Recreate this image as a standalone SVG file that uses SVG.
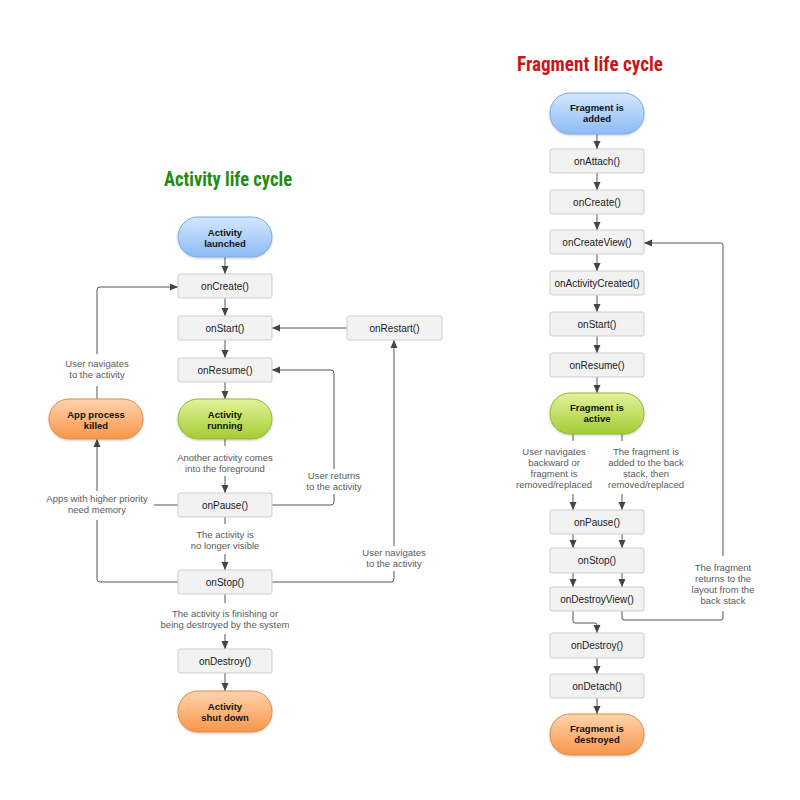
<svg xmlns="http://www.w3.org/2000/svg" width="800" height="800" viewBox="0 0 800 800">
<defs>
<linearGradient id="gBlue" x1="0" y1="0" x2="0" y2="1"><stop offset="0" stop-color="#d3e7ff"/><stop offset="1" stop-color="#8cbbf5"/></linearGradient>
<linearGradient id="gGreen" x1="0" y1="0" x2="0" y2="1"><stop offset="0" stop-color="#e2f29a"/><stop offset="1" stop-color="#a3cd34"/></linearGradient>
<linearGradient id="gOrange" x1="0" y1="0" x2="0" y2="1"><stop offset="0" stop-color="#ffd3ad"/><stop offset="1" stop-color="#f8964a"/></linearGradient>
<filter id="sh" x="-10%" y="-10%" width="120%" height="130%"><feDropShadow dx="0" dy="1" stdDeviation="0.8" flood-color="#000" flood-opacity="0.2"/></filter>
<marker id="arr" viewBox="0 0 8 8" refX="8" refY="4" markerWidth="8" markerHeight="8" markerUnits="userSpaceOnUse" orient="auto"><path d="M0,0.5 L8,4 L0,7.5 Z" fill="#444"/></marker>
</defs>
<style>
.box{fill:#f2f2f2;stroke:#cdcdcd;stroke-width:1}
.pill{stroke-width:1;filter:url(#sh)}
.blue{fill:url(#gBlue);stroke:#82a8de}
.green{fill:url(#gGreen);stroke:#95b83c}
.orange{fill:url(#gOrange);stroke:#e08c48}
.m{font-family:"Liberation Sans",Arial,sans-serif;font-size:10px;fill:#1a1a1a;text-anchor:middle}
.b{font-family:"Liberation Sans",Arial,sans-serif;font-size:9.5px;font-weight:bold;fill:#111;text-anchor:middle}
.l{font-family:"Liberation Sans",Arial,sans-serif;font-size:9.5px;fill:#5a5a5a;text-anchor:middle}
.t{font-family:"Liberation Sans Narrow","Roboto Condensed","Liberation Sans",sans-serif;font-weight:bold;font-size:21px}
.c{fill:none;stroke:#555;stroke-width:1}
.a{marker-end:url(#arr)}
</style>
<rect width="800" height="800" fill="#fff"/>

<text class="t" x="164" y="186" fill="#1f8c14" textLength="128" lengthAdjust="spacingAndGlyphs">Activity life cycle</text>
<text class="t" x="517" y="71" fill="#c8161b" textLength="146" lengthAdjust="spacingAndGlyphs">Fragment life cycle</text>

<g id="connectors">
<!-- activity -->
<path class="c a" d="M225,257 V274"/>
<path class="c a" d="M225,298 V316"/>
<path class="c a" d="M225,340 V358"/>
<path class="c a" d="M225,382 V399"/>
<path class="c" d="M225,439 V446"/>
<path class="c a" d="M225,476 V493"/>
<path class="c" d="M225,517 V524"/>
<path class="c a" d="M225,554 V570"/>
<path class="c" d="M225,594 V603"/>
<path class="c a" d="M225,634 V649"/>
<path class="c a" d="M225,673 V691"/>
<path class="c a" d="M347,328 H272"/>
<path class="c" d="M272,505 H331 Q334,505 334,502 V494"/>
<path class="c a" d="M334,469 V373 Q334,370 331,370 H272"/>
<path class="c" d="M272,582 H391 Q394,582 394,579 V571"/>
<path class="c a" d="M394,546 V340"/>
<path class="c" d="M178,582 H100 Q97,582 97,579 V520"/>
<path class="c a" d="M97,491 V439"/>
<path class="c" d="M178,505 H154"/>
<path class="c" d="M97,399 V386"/>
<path class="c a" d="M97,354 V290 Q97,287 100,287 H178"/>
<!-- fragment -->
<path class="c a" d="M597,134 V149"/>
<path class="c a" d="M597,173 V190"/>
<path class="c a" d="M597,214 V230"/>
<path class="c a" d="M597,254 V271"/>
<path class="c a" d="M597,295 V312"/>
<path class="c a" d="M597,336 V353"/>
<path class="c a" d="M597,377 V393"/>
<path class="c" d="M573,434 V441"/>
<path class="c" d="M622,434 V441"/>
<path class="c a" d="M573,494 V510"/>
<path class="c a" d="M622,494 V510"/>
<path class="c a" d="M573,534 V548"/>
<path class="c a" d="M622,534 V548"/>
<path class="c a" d="M573,573 V587"/>
<path class="c a" d="M622,573 V587"/>
<path class="c a" d="M573,611 V621 Q573,623 575,623 H595 Q597,623 597,625 V633"/>
<path class="c" d="M622,611 V618 Q622,620 624,620 H721 Q723,620 723,618 V611"/>
<path class="c a" d="M723,556 V245 Q723,243 721,243 H644"/>
<path class="c a" d="M597,658 V674"/>
<path class="c a" d="M597,698 V714"/>
</g>

<g id="labels">
<text class="l" x="97" y="367">User navigates</text>
<text class="l" x="97" y="378">to the activity</text>
<text class="l" x="225" y="461">Another activity comes</text>
<text class="l" x="225" y="472">into the foreground</text>
<text class="l" x="334" y="479">User returns</text>
<text class="l" x="334" y="490">to the activity</text>
<text class="l" x="97" y="502">Apps with higher priority</text>
<text class="l" x="97" y="513">need memory</text>
<text class="l" x="225" y="538">The activity is</text>
<text class="l" x="225" y="549">no longer visible</text>
<text class="l" x="394" y="556">User navigates</text>
<text class="l" x="394" y="567">to the activity</text>
<text class="l" x="225" y="617">The activity is finishing or</text>
<text class="l" x="225" y="628">being destroyed by the system</text>
<text class="l" x="554" y="455">User navigates</text>
<text class="l" x="554" y="466">backward or</text>
<text class="l" x="554" y="477">fragment is</text>
<text class="l" x="554" y="488">removed/replaced</text>
<text class="l" x="646" y="455">The fragment is</text>
<text class="l" x="646" y="466">added to the back</text>
<text class="l" x="646" y="477">stack, then</text>
<text class="l" x="646" y="488">removed/replaced</text>
<text class="l" x="723" y="571">The fragment</text>
<text class="l" x="723" y="582">returns to the</text>
<text class="l" x="723" y="593">layout from the</text>
<text class="l" x="723" y="604">back stack</text>
</g>

<g id="a-launched"><rect class="pill blue" x="178" y="217" width="94" height="40" rx="20"/><text class="b" x="225" y="236">Activity</text><text class="b" x="225" y="247">launched</text></g>
<g id="a-onCreate"><rect class="box" x="178" y="274" width="94" height="24" rx="2"/><text class="m" x="225" y="289.5">onCreate()</text></g>
<g id="a-onStart"><rect class="box" x="178" y="316" width="94" height="24" rx="2"/><text class="m" x="225" y="331.5">onStart()</text></g>
<g id="a-onResume"><rect class="box" x="178" y="358" width="94" height="24" rx="2"/><text class="m" x="225" y="373.5">onResume()</text></g>
<g id="a-running"><rect class="pill green" x="178" y="399" width="94" height="40" rx="20"/><text class="b" x="225" y="418">Activity</text><text class="b" x="225" y="429">running</text></g>
<g id="a-onPause"><rect class="box" x="178" y="493" width="94" height="24" rx="2"/><text class="m" x="225" y="508.5">onPause()</text></g>
<g id="a-onStop"><rect class="box" x="178" y="570" width="94" height="24" rx="2"/><text class="m" x="225" y="585.5">onStop()</text></g>
<g id="a-onDestroy"><rect class="box" x="178" y="649" width="94" height="24" rx="2"/><text class="m" x="225" y="664.5">onDestroy()</text></g>
<g id="a-shutdown"><rect class="pill orange" x="178" y="691" width="94" height="41" rx="20"/><text class="b" x="225" y="710">Activity</text><text class="b" x="225" y="721">shut down</text></g>
<g id="a-onRestart"><rect class="box" x="347" y="316" width="95" height="24" rx="2"/><text class="m" x="394.5" y="331.5">onRestart()</text></g>
<g id="a-killed"><rect class="pill orange" x="49" y="399" width="94" height="40" rx="20"/><text class="b" x="96" y="418">App process</text><text class="b" x="96" y="429">killed</text></g>

<g id="f-added"><rect class="pill blue" x="550" y="93" width="94" height="41" rx="20"/><text class="b" x="597" y="111">Fragment is</text><text class="b" x="597" y="122">added</text></g>
<g id="f-onAttach"><rect class="box" x="550" y="149" width="94" height="24" rx="2"/><text class="m" x="597" y="164.5">onAttach()</text></g>
<g id="f-onCreate"><rect class="box" x="550" y="190" width="94" height="24" rx="2"/><text class="m" x="597" y="205.5">onCreate()</text></g>
<g id="f-onCreateView"><rect class="box" x="550" y="230" width="94" height="24" rx="2"/><text class="m" x="597" y="245.5">onCreateView()</text></g>
<g id="f-onActivityCreated"><rect class="box" x="550" y="271" width="94" height="24" rx="2"/><text class="m" x="597" y="286.5">onActivityCreated()</text></g>
<g id="f-onStart"><rect class="box" x="550" y="312" width="94" height="24" rx="2"/><text class="m" x="597" y="327.5">onStart()</text></g>
<g id="f-onResume"><rect class="box" x="550" y="353" width="94" height="24" rx="2"/><text class="m" x="597" y="368.5">onResume()</text></g>
<g id="f-active"><rect class="pill green" x="550" y="393" width="94" height="41" rx="20"/><text class="b" x="597" y="411">Fragment is</text><text class="b" x="597" y="422">active</text></g>
<g id="f-onPause"><rect class="box" x="550" y="510" width="94" height="24" rx="2"/><text class="m" x="597" y="525.5">onPause()</text></g>
<g id="f-onStop"><rect class="box" x="550" y="548" width="94" height="25" rx="2"/><text class="m" x="597" y="564">onStop()</text></g>
<g id="f-onDestroyView"><rect class="box" x="550" y="587" width="94" height="24" rx="2"/><text class="m" x="597" y="602.5">onDestroyView()</text></g>
<g id="f-onDestroy"><rect class="box" x="550" y="633" width="94" height="25" rx="2"/><text class="m" x="597" y="649">onDestroy()</text></g>
<g id="f-onDetach"><rect class="box" x="550" y="674" width="94" height="24" rx="2"/><text class="m" x="597" y="689.5">onDetach()</text></g>
<g id="f-destroyed"><rect class="pill orange" x="550" y="714" width="94" height="41" rx="20"/><text class="b" x="597" y="732">Fragment is</text><text class="b" x="597" y="743">destroyed</text></g>
</svg>
